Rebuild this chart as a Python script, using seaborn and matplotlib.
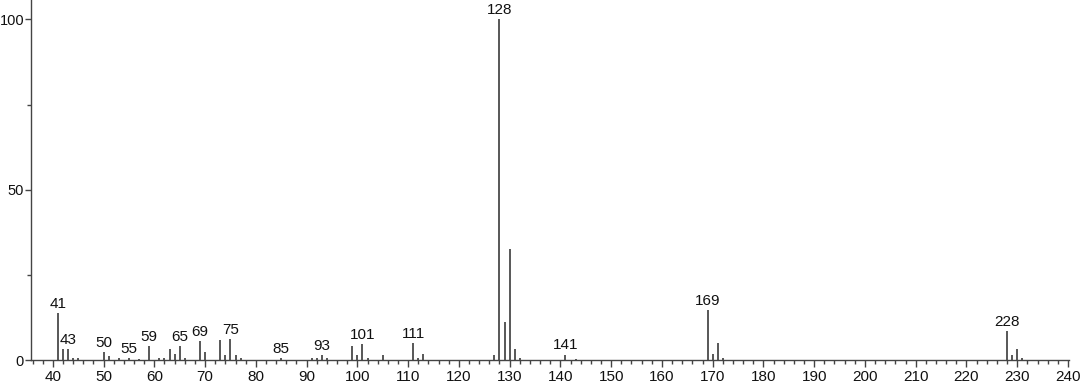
import matplotlib
matplotlib.use("Agg")
import matplotlib.pyplot as plt
from matplotlib.ticker import MultipleLocator, FixedLocator
import seaborn as sns
import pandas as pd

mz = [41, 42, 43, 44, 45, 50, 51, 53, 55, 57, 59, 61, 62, 63, 64, 65, 66,
      69, 70, 73, 74, 75, 76, 77, 85, 91, 92, 93, 94, 99, 100, 101, 102,
      105, 111, 112, 113, 127, 128, 129, 130, 131, 132, 141, 143,
      169, 170, 171, 172, 228, 229, 230, 231]
intensity = [13.8, 3.2, 3.3, 0.6, 0.6, 2.4, 1.2, 0.5, 0.6, 0.4, 4.1, 0.5, 0.6, 3.2, 1.7, 4.1, 0.6,
             5.7, 2.4, 5.8, 1.5, 6.1, 1.4, 0.6, 0.6, 0.5, 0.6, 1.4, 0.5, 4.1, 1.6, 4.7, 0.6,
             1.4, 4.9, 0.6, 1.7, 1.4, 100.0, 11.1, 32.5, 3.2, 0.5, 1.6, 0.4,
             14.7, 1.8, 5.1, 0.6, 8.6, 1.4, 3.2, 0.6]
labeled = [41, 43, 50, 55, 59, 65, 69, 75, 85, 93, 101, 111, 128, 141, 169, 228]
xticks = list(range(40, 241, 10))
yticks = [0, 50, 100]

df = pd.DataFrame({"mz": mz, "intensity": intensity})

sns.set_style("ticks")
plt.rcParams['font.family'] = ['Liberation Sans', 'DejaVu Sans']

fig = plt.figure(figsize=(10.92, 3.84), dpi=100)
ax = fig.add_axes([31 / 1092, 24 / 384, (1069 - 31) / 1092, 360 / 384])

ax.vlines(df["mz"], 0, df["intensity"], colors="#2a2a2a", linewidth=1.1)

for m, v in zip(mz, intensity):
    if m in labeled:
        ax.annotate(str(m), (m, v), xytext=(0, 1.5), textcoords="offset points",
                    ha="center", va="bottom", fontsize=11, color="#111111")

ax.set_xlim(35.7, 240.2)
ax.set_ylim(0, 105.7)
ax.xaxis.set_major_locator(FixedLocator(xticks))
ax.xaxis.set_minor_locator(MultipleLocator(2))
ax.yaxis.set_major_locator(FixedLocator(yticks))
ax.yaxis.set_minor_locator(FixedLocator([25, 75]))
ax.tick_params(axis="x", which="major", length=5, width=1, color="#444444",
               labelsize=11, labelcolor="#111111", pad=2)
ax.tick_params(axis="y", which="major", length=4, width=1, color="#444444",
               labelsize=10.5, labelcolor="#111111", pad=1)
ax.tick_params(axis="both", which="minor", length=3, width=1, color="#444444")
sns.despine(ax=ax, top=True, right=True)
for s in ["left", "bottom"]:
    ax.spines[s].set_color("#444444")
    ax.spines[s].set_linewidth(1)
ax.set_xlabel("")
ax.set_ylabel("")
ax.patch.set_alpha(0)

fig.savefig("out.png", dpi=100)
